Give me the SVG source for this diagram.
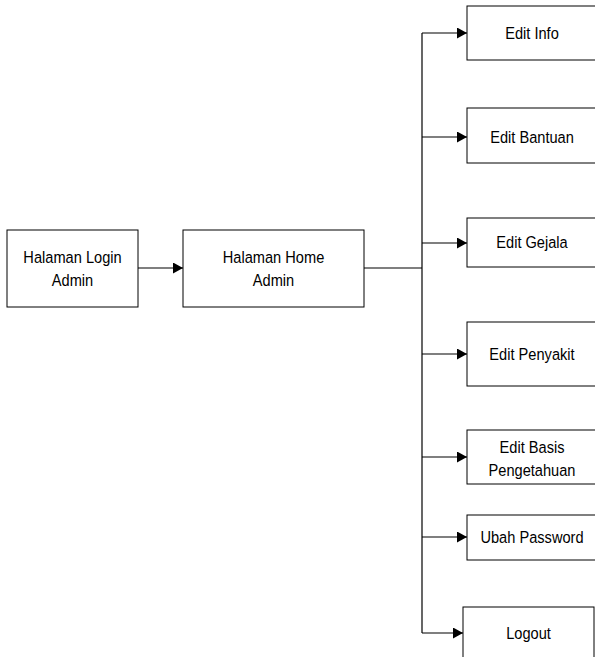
<svg xmlns="http://www.w3.org/2000/svg" width="595" height="657" viewBox="0 0 595 657">
<style>
.box{fill:#fff;stroke:#000;stroke-width:1}
.t{font-family:"Liberation Sans",Arial,sans-serif;font-size:17px;fill:#000;text-anchor:middle}
.c{fill:none;stroke:#000;stroke-width:1.2}
</style>
<defs>
<marker id="ah" viewBox="0 0 10 11" refX="10" refY="5.5" markerWidth="10" markerHeight="11" markerUnits="userSpaceOnUse" orient="auto">
<path d="M0,0 L10,5.5 L0,11 Z" fill="#000"/>
</marker>
</defs>
<g id="connectors">
<line class="c" x1="138" y1="268" x2="183" y2="268" marker-end="url(#ah)"/>
<line class="c" x1="364" y1="268" x2="422" y2="268"/>
<line class="c" x1="422" y1="33" x2="422" y2="633"/>
<line class="c" x1="422" y1="33" x2="467" y2="33" marker-end="url(#ah)"/>
<line class="c" x1="422" y1="137" x2="467" y2="137" marker-end="url(#ah)"/>
<line class="c" x1="422" y1="243" x2="467" y2="243" marker-end="url(#ah)"/>
<line class="c" x1="422" y1="354" x2="467" y2="354" marker-end="url(#ah)"/>
<line class="c" x1="422" y1="457" x2="467" y2="457" marker-end="url(#ah)"/>
<line class="c" x1="422" y1="537" x2="467" y2="537" marker-end="url(#ah)"/>
<line class="c" x1="422" y1="633" x2="463" y2="633" marker-end="url(#ah)"/>
</g>
<g id="login"><rect class="box" x="7" y="230" width="131" height="77"/><g transform="translate(72.5,0) scale(0.86,1)"><text class="t" x="0" y="263">Halaman Login</text><text class="t" x="0" y="286">Admin</text></g></g>
<g id="home"><rect class="box" x="183" y="230" width="181" height="77"/><g transform="translate(273.5,0) scale(0.86,1)"><text class="t" x="0" y="263">Halaman Home</text><text class="t" x="0" y="286">Admin</text></g></g>
<g id="editinfo"><rect class="box" x="467" y="6" width="140" height="54"/><g transform="translate(532,0) scale(0.86,1)"><text class="t" x="0" y="39">Edit Info</text></g></g>
<g id="editbantuan"><rect class="box" x="467" y="108" width="140" height="55"/><g transform="translate(532,0) scale(0.86,1)"><text class="t" x="0" y="143">Edit Bantuan</text></g></g>
<g id="editgejala"><rect class="box" x="467" y="218" width="140" height="49"/><g transform="translate(532,0) scale(0.86,1)"><text class="t" x="0" y="248">Edit Gejala</text></g></g>
<g id="editpenyakit"><rect class="box" x="467" y="322" width="140" height="64"/><g transform="translate(532,0) scale(0.86,1)"><text class="t" x="0" y="360">Edit Penyakit</text></g></g>
<g id="editbasis"><rect class="box" x="467" y="430" width="140" height="54"/><g transform="translate(532,0) scale(0.86,1)"><text class="t" x="0" y="453">Edit Basis</text><text class="t" x="0" y="476">Pengetahuan</text></g></g>
<g id="ubahpassword"><rect class="box" x="467" y="515" width="140" height="45"/><g transform="translate(532,0) scale(0.86,1)"><text class="t" x="0" y="543">Ubah Password</text></g></g>
<g id="logout"><rect class="box" x="463" y="607" width="131" height="60"/><g transform="translate(528.5,0) scale(0.86,1)"><text class="t" x="0" y="639">Logout</text></g></g>
</svg>
